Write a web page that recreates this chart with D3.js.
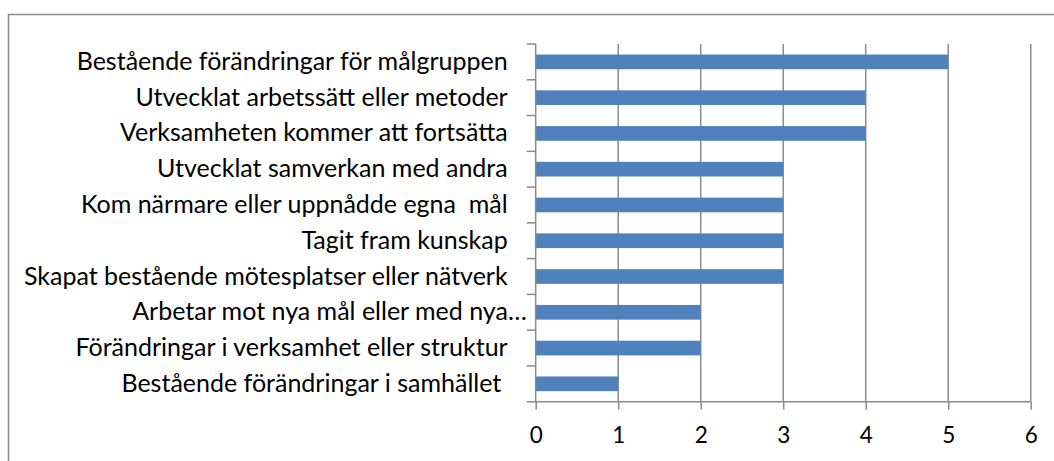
<!DOCTYPE html>
<html>
<head>
<meta charset="utf-8">
<script src="https://cdn.jsdelivr.net/npm/d3@7"></script>
<style>
  body { margin: 0; background: #fff; }
  text { font-family: Lato, "Open Sans", sans-serif; fill: #000; white-space: pre; }
</style>
</head>
<body>
<div class="chart"></div>
<script>
var svgWidth = 1054;
var svgHeight = 461;

// categories from top to bottom, as in the chart
var categories = [
  "Bestående förändringar för målgruppen",
  "Utvecklat arbetssätt eller metoder",
  "Verksamheten kommer att fortsätta",
  "Utvecklat samverkan med andra",
  "Kom närmare eller uppnådde egna  mål",
  "Tagit fram kunskap",
  "Skapat bestående mötesplatser eller nätverk",
  "Arbetar mot nya mål eller med nya…",
  "Förändringar i verksamhet eller struktur",
  "Bestående förändringar i samhället "
];
var values = [5, 4, 4, 3, 3, 3, 3, 2, 2, 1];
var xTicks = [0, 1, 2, 3, 4, 5, 6];

var plot = { left: 535.7, right: 1030.7, top: 44, bottom: 401.7 };

var svg = d3.select(".chart")
  .append("svg")
  .attr("width", svgWidth)
  .attr("height", svgHeight);

// outer chart border (right and bottom fall outside the picture)
svg.append("rect")
  .attr("x", 8.5)
  .attr("y", 14.5)
  .attr("width", 1100)
  .attr("height", 500)
  .attr("fill", "none")
  .attr("stroke", "#8c8c8c")
  .attr("stroke-width", 1.5);

var xScale = d3.scaleLinear()
  .domain([0, 6])
  .range([plot.left, plot.right]);

var yScale = d3.scaleBand()
  .domain(categories)
  .range([plot.top, plot.bottom])
  .paddingInner(0.59)
  .paddingOuter(0.295);

// gridlines
svg.append("g")
  .selectAll("line")
  .data(xTicks.slice(1))
  .enter()
  .append("line")
  .attr("x1", d => xScale(d))
  .attr("x2", d => xScale(d))
  .attr("y1", plot.top)
  .attr("y2", plot.bottom)
  .attr("stroke", "#8a8a8a")
  .attr("stroke-width", 1.5);

// bars
svg.append("g")
  .selectAll("rect")
  .data(values)
  .enter()
  .append("rect")
  .attr("x", xScale(0))
  .attr("y", (d, i) => yScale(categories[i]))
  .attr("width", d => xScale(d) - xScale(0))
  .attr("height", yScale.bandwidth())
  .attr("fill", "#4f81bd");

// x axis
var bottomAxis = d3.axisBottom(xScale)
  .tickValues(xTicks)
  .tickSize(8)
  .tickPadding(17)
  .tickFormat(d3.format("d"));

var xAxis = svg.append("g")
  .attr("transform", `translate(0, ${plot.bottom})`)
  .call(bottomAxis);

xAxis.select(".domain").remove();
xAxis.selectAll("line").attr("stroke", "#8a8a8a").attr("stroke-width", 1.5);
xAxis.selectAll("text")
  .style("font-size", "22.5px")
  .style("font-family", "Lato, 'Open Sans', sans-serif");

svg.append("line")
  .attr("x1", plot.left - 9)
  .attr("x2", plot.right)
  .attr("y1", plot.bottom)
  .attr("y2", plot.bottom)
  .attr("stroke", "#8a8a8a")
  .attr("stroke-width", 1.5);

// y axis line and ticks at the band edges
svg.append("line")
  .attr("x1", plot.left)
  .attr("x2", plot.left)
  .attr("y1", plot.top)
  .attr("y2", plot.bottom)
  .attr("stroke", "#8a8a8a")
  .attr("stroke-width", 1.5);

var step = yScale.step();
svg.append("g")
  .selectAll("line")
  .data(d3.range(categories.length))
  .enter()
  .append("line")
  .attr("x1", plot.left - 9)
  .attr("x2", plot.left)
  .attr("y1", i => plot.top + i * step)
  .attr("y2", i => plot.top + i * step)
  .attr("stroke", "#8a8a8a")
  .attr("stroke-width", 1.5);

// category labels
svg.append("g")
  .selectAll("text")
  .data(categories)
  .enter()
  .append("text")
  .attr("x", d => d.endsWith("…") ? plot.left - 9 : plot.left - 28)
  .attr("y", d => yScale(d) + yScale.bandwidth() / 2 + 8)
  .attr("text-anchor", "end")
  .style("font-size", "25px")
  .text(d => d);
</script>
</body>
</html>
